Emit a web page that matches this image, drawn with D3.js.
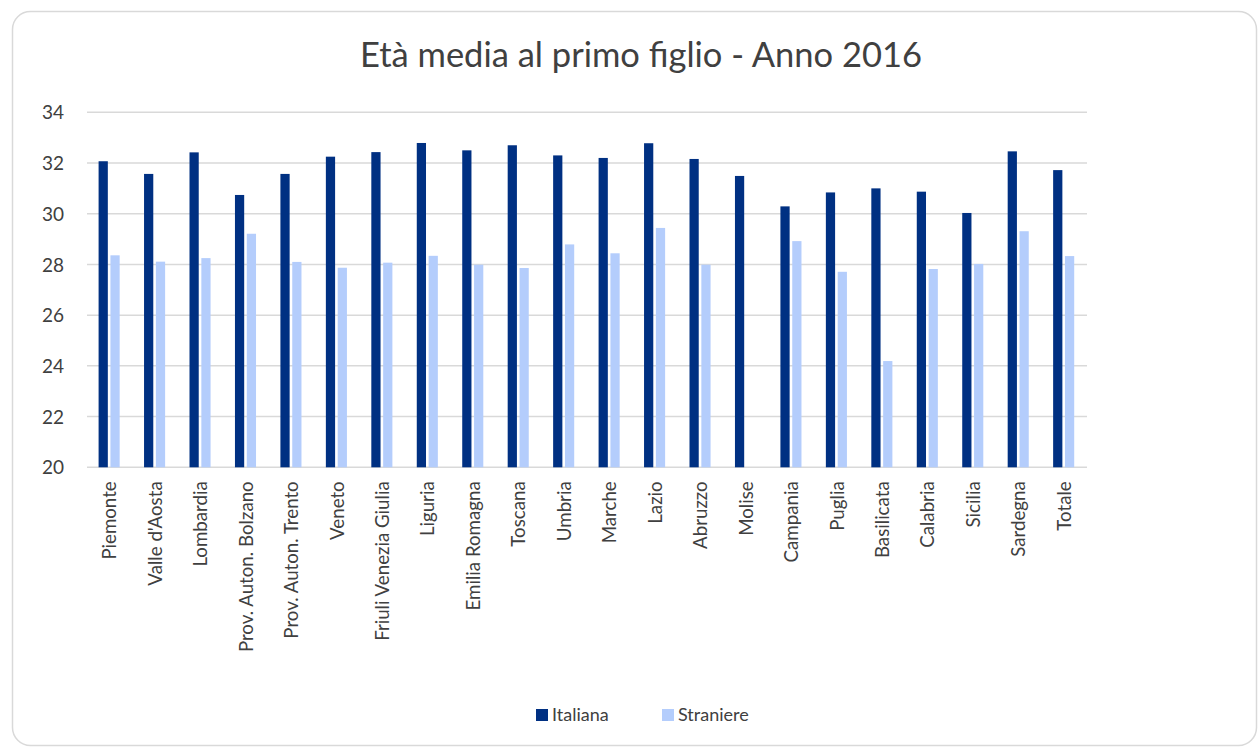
<!DOCTYPE html>
<html><head><meta charset="utf-8">
<script src="https://cdn.jsdelivr.net/npm/d3@7"></script>
<style>body{margin:0;background:#fff;} svg{display:block;}</style>
</head><body>
<svg id="chart" width="1258" height="747"></svg>
<script>
const categories = ["Piemonte","Valle d'Aosta","Lombardia","Prov. Auton. Bolzano","Prov. Auton. Trento","Veneto","Friuli Venezia Giulia","Liguria","Emilia Romagna","Toscana","Umbria","Marche","Lazio","Abruzzo","Molise","Campania","Puglia","Basilicata","Calabria","Sicilia","Sardegna","Totale"];
const italiana = [32.07,31.57,32.42,30.74,31.57,32.25,32.43,32.79,32.50,32.70,32.30,32.20,32.78,32.16,31.49,30.29,30.84,31.00,30.87,30.03,32.46,31.72];
const straniere = [28.36,28.11,28.25,29.21,28.10,27.87,28.07,28.34,27.99,27.86,28.79,28.44,29.44,27.99,null,28.92,27.71,24.19,27.82,28.02,29.31,28.33];
const seriesNames = ["Italiana","Straniere"];
const yTicks = [20,22,24,26,28,30,32,34];
const title = "Età media al primo figlio - Anno 2016";

const colors = ["#003082","#b4cdfc"];
const font = "Lato, 'Open Sans', sans-serif";
const textColor = "#404040";

const svg = d3.select("#chart");
svg.append("rect").attr("x",12.5).attr("y",11.5).attr("width",1244).attr("height",734)
  .attr("rx",18).attr("fill","#fff").attr("stroke","#d9d9d9").attr("stroke-width",1.5);

svg.append("text").attr("x",641).attr("y",67).attr("text-anchor","middle")
  .attr("font-family",font).attr("font-size",34.5).attr("fill",textColor).text(title);

const x = d3.scaleBand().domain(categories).range([87,1087]).paddingInner(0).paddingOuter(0);
const y = d3.scaleLinear().domain([20,34]).range([467.3,112.3]);

// gridlines
svg.append("g").selectAll("line").data(yTicks).join("line")
  .attr("x1",87).attr("x2",1087).attr("y1",d=>y(d)).attr("y2",d=>y(d))
  .attr("stroke","#d9d9d9").attr("stroke-width",1.5);

// y labels
const yAxis = d3.axisLeft(y).tickValues(yTicks).tickSize(0).tickPadding(0);
const gy = svg.append("g").attr("transform","translate(64,0)").call(yAxis);
gy.select(".domain").remove();
gy.selectAll("text").attr("font-family",font).attr("font-size",19).attr("fill",textColor).attr("dy","0.35em");

const sub = d3.scaleBand().domain(seriesNames).range([0,x.bandwidth()]).paddingInner(0.22).paddingOuter(1.03);
const data = categories.map((c,i)=>({c, vals:[italiana[i],straniere[i]]}));
const groups = svg.append("g").selectAll("g").data(data).join("g")
  .attr("transform",d=>`translate(${x(d.c)},0)`);
groups.selectAll("rect").data(d=>d.vals.map((v,j)=>({v,s:seriesNames[j],j})).filter(e=>e.v!=null))
  .join("rect")
  .attr("x",e=>sub(e.s)-0.6).attr("width",sub.bandwidth())
  .attr("y",e=>y(e.v)).attr("height",e=>y(20)-y(e.v))
  .attr("fill",e=>colors[e.j]);

// x labels
const xAxis = d3.axisBottom(x).tickSize(0).tickPadding(0);
const gx = svg.append("g").attr("transform",`translate(0,${y(20)})`).call(xAxis);
gx.select(".domain").remove();
gx.selectAll("text").attr("font-family",font).attr("font-size",18.7).attr("fill",textColor)
  .attr("text-anchor","end").attr("dy","0.35em")
  .attr("transform","translate(0,14) rotate(-90)").attr("x",0).attr("y",0);

// legend
const leg = svg.append("g");
const legX = [536,662];
seriesNames.forEach((s,i)=>{
  leg.append("rect").attr("x",legX[i]).attr("y",709).attr("width",12).attr("height",12).attr("fill",colors[i]);
  leg.append("text").attr("x",legX[i]+16).attr("y",715).attr("dy","0.35em").attr("font-family",font)
    .attr("font-size",18).attr("fill",textColor).text(s);
});
</script>
</body></html>
